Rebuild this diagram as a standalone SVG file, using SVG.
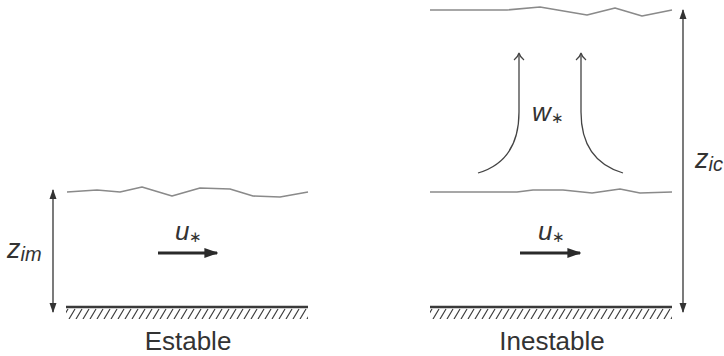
<svg xmlns="http://www.w3.org/2000/svg" width="724" height="356" viewBox="0 0 724 356">
<defs>
<style>
.wave{fill:none;stroke:#8a8a8a;stroke-width:1.6;stroke-linejoin:round}
.ground{stroke:#3a3a3a;stroke-width:2.6}
.dim{fill:none;stroke:#333;stroke-width:1.3}
.flow{fill:none;stroke:#2a2a2a;stroke-width:3}
.plume{fill:none;stroke:#444;stroke-width:1.3}
.lbl{font-family:"Liberation Sans",Arial,sans-serif;font-style:italic;fill:#333}
.cap{font-family:"Liberation Sans",Arial,sans-serif;fill:#333;font-size:26px;text-anchor:middle}
</style>
<marker id="ah" viewBox="0 0 10 10" refX="9" refY="5" markerWidth="10" markerHeight="10" markerUnits="userSpaceOnUse" orient="auto-start-reverse">
<path d="M0,1.5 L10,5 L0,8.5 Z" fill="#333"/>
</marker>
<marker id="fh" viewBox="0 0 10 10" refX="9" refY="5" markerWidth="14" markerHeight="14" markerUnits="userSpaceOnUse" orient="auto">
<path d="M0,1.5 L10,5 L0,8.5 Z" fill="#2a2a2a"/>
</marker>
<pattern id="hp" x="0" y="308" width="7" height="11" patternUnits="userSpaceOnUse">
<line x1="-1" y1="11" x2="5" y2="1" stroke="#3a3a3a" stroke-width="1.2"/>
<line x1="6" y1="11" x2="12" y2="1" stroke="#3a3a3a" stroke-width="1.2"/>
</pattern>
</defs>

<g id="estable">
<polyline class="wave" points="67,192 97,190 120,192 142,187 172,196 200,188 230,189 253,196 280,197 308,192"/>
<rect x="66" y="308" width="242" height="11" fill="url(#hp)"/>
<line class="ground" x1="66" y1="307" x2="308" y2="307"/>
<text class="cap" x="188" y="350">Estable</text>
</g>

<g id="inestable">
<polyline class="wave" points="430,10 507,10 540,7 587,15 615,8 642,16 672,10"/>
<polyline class="wave" points="430,192 517,192 533,190 563,190 592,193 620,189 640,193 672,192"/>
<rect x="430" y="308" width="242" height="11" fill="url(#hp)"/>
<line class="ground" x1="430" y1="307" x2="672" y2="307"/>
<text class="cap" x="552" y="350">Inestable</text>
</g>

<g id="zim">
<text class="lbl" x="7" y="258" font-size="27">z<tspan font-size="20" dy="3">im</tspan></text>
</g>
<g id="zic">
<text class="lbl" x="695" y="168" font-size="27">z<tspan font-size="20" dy="3">ic</tspan></text>
</g>
<g id="ustar-left">
<text class="lbl" x="175" y="240" font-size="26">u<tspan font-size="15" dy="2" font-style="normal">∗</tspan></text>
</g>
<g id="ustar-right">
<text class="lbl" x="538" y="240" font-size="26">u<tspan font-size="15" dy="2" font-style="normal">∗</tspan></text>
</g>
<g id="wstar">
<text class="lbl" x="532" y="121" font-size="26">w<tspan font-size="15" dy="2" font-style="normal">∗</tspan></text>
</g>

<g id="connectors">
<line class="dim" x1="53" y1="190" x2="53" y2="312" marker-start="url(#ah)" marker-end="url(#ah)"/>
<line class="dim" x1="683" y1="10" x2="683" y2="312" marker-start="url(#ah)" marker-end="url(#ah)"/>
<line class="flow" x1="158" y1="253" x2="217" y2="253" marker-end="url(#fh)"/>
<line class="flow" x1="520" y1="253" x2="580" y2="253" marker-end="url(#fh)"/>
<path class="plume" d="M478,173 C505,165 519,145 519,112 L519,54"/>
<path class="plume" d="M623,173 C596,165 581,145 581,112 L581,54"/>
<path class="plume" d="M514,60 Q518,57 519,53 Q520,57 524,60"/>
<path class="plume" d="M576,60 Q580,57 581,53 Q582,57 586,60"/>
</g>
</svg>
